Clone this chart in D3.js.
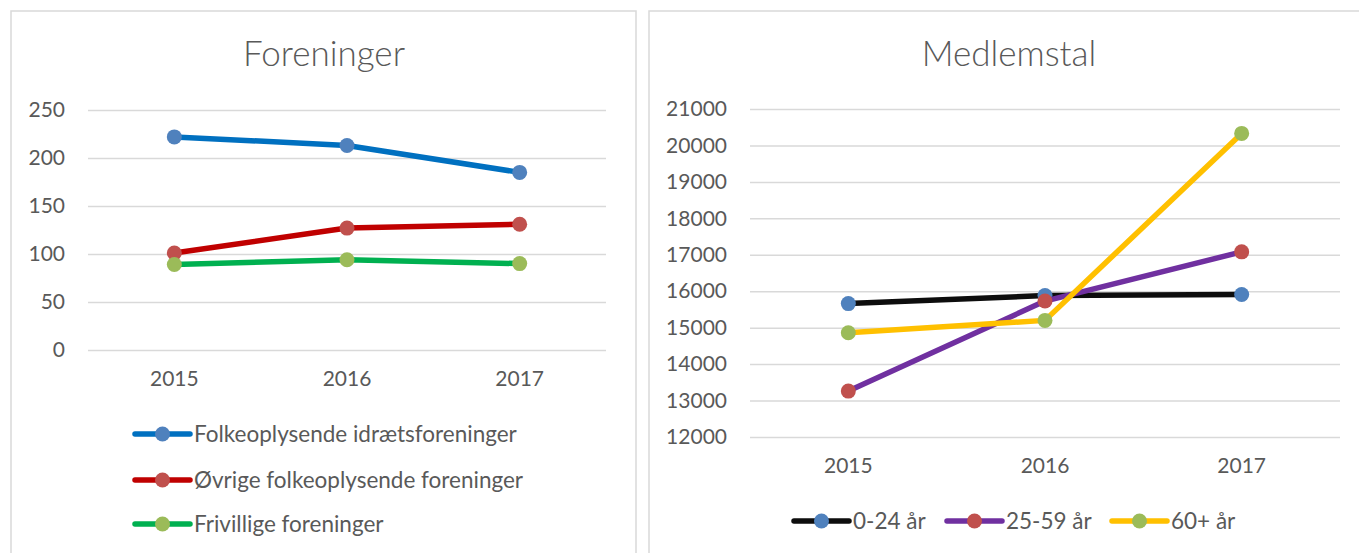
<!DOCTYPE html>
<html>
<head>
<meta charset="utf-8">
<script src="https://cdn.jsdelivr.net/npm/d3@7"></script>
<style>
  body { margin: 0; background: #fff; }
  svg text { font-family: Lato, "Open Sans", sans-serif; fill: #595959; }
</style>
</head>
<body>
<svg id="chart" width="1359" height="553"></svg>
<script>
// Data
var years = ['2015', '2016', '2017'];

// Foreninger
var foreningerNames = ['Folkeoplysende idrætsforeninger', 'Øvrige folkeoplysende foreninger', 'Frivillige foreninger'];
var idraet = [222, 213, 185];
var oevrige = [101, 127, 131];
var frivillige = [89, 94, 90];
var foreningerTicks = [0, 50, 100, 150, 200, 250];

// Medlemstal
var medlemNames = ['0-24 år', '25-59 år', '60+ år'];
var aar0_24 = [15660, 15880, 15910];
var aar25_59 = [13260, 15730, 17080];
var aar60 = [14860, 15200, 20330];
var medlemTicks = [12000, 13000, 14000, 15000, 16000, 17000, 18000, 19000, 20000, 21000];

var svg = d3.select('#chart');

// Panel borders
svg.append('rect')
    .attr('x', 11).attr('y', 11)
    .attr('width', 625).attr('height', 600)
    .attr('fill', 'none').attr('stroke', '#d9d9d9').attr('stroke-width', 1.5);
svg.append('rect')
    .attr('x', 649).attr('y', 11)
    .attr('width', 800).attr('height', 600)
    .attr('fill', 'none').attr('stroke', '#d9d9d9').attr('stroke-width', 1.5);

// Function to draw one line chart
function drawPanel(cfg) {

    var g = svg.append('g');

    var x = d3.scaleBand()
        .domain(years)
        .range([cfg.left, cfg.right]);

    var y = d3.scaleLinear()
        .domain(cfg.domain)
        .range([cfg.bottom, cfg.top]);

    // title
    g.append('text')
        .attr('x', cfg.titleX)
        .attr('y', 66)
        .attr('text-anchor', 'middle')
        .style('font-size', '35px')
        .style('font-weight', 300)
        .text(cfg.title);

    // gridlines + y labels
    var yAxis = d3.axisLeft(y)
        .tickValues(cfg.ticks)
        .tickFormat(d3.format('d'))
        .tickSize(-(cfg.right - cfg.left))
        .tickPadding(cfg.left - cfg.labelEnd);

    var ya = g.append('g')
        .attr('transform', 'translate(' + cfg.left + ',0)')
        .call(yAxis);
    ya.select('.domain').remove();
    ya.selectAll('.tick line').attr('stroke', '#d9d9d9').attr('stroke-width', 1.5);
    ya.selectAll('.tick text')
        .style('font-size', '21px')
        .style('font-family', 'Lato, sans-serif')
        .attr('fill', '#595959');

    // x labels
    var xAxis = d3.axisBottom(x).tickSize(0).tickPadding(cfg.xLabelPad);
    var xa = g.append('g')
        .attr('transform', 'translate(0,' + cfg.bottom + ')')
        .call(xAxis);
    xa.select('.domain').remove();
    xa.selectAll('.tick text')
        .style('font-size', '21px')
        .style('font-family', 'Lato, sans-serif')
        .attr('fill', '#595959');

    var line = d3.line()
        .x(function(d, i) { return x(years[i]) + x.bandwidth() / 2; })
        .y(function(d) { return y(d); });

    cfg.series.forEach(function(s) {
        g.append('path')
            .datum(s.values)
            .attr('d', line)
            .attr('fill', 'none')
            .attr('stroke', s.line)
            .attr('stroke-width', 5.5)
            .attr('stroke-linejoin', 'round')
            .attr('stroke-linecap', 'round');

        g.selectAll(null)
            .data(s.values)
            .enter().append('circle')
            .attr('cx', function(d, i) { return x(years[i]) + x.bandwidth() / 2; })
            .attr('cy', function(d) { return y(d); })
            .attr('r', 7.5)
            .attr('fill', s.marker);
    });

    // legend
    var legend = g.selectAll('.legend')
        .data(cfg.series)
        .enter().append('g')
        .attr('transform', function(d, i) { return 'translate(' + cfg.legendX[i] + ',' + cfg.legendY[i] + ')'; });

    legend.append('line')
        .attr('x1', 0).attr('x2', 55)
        .attr('stroke', function(d) { return d.line; })
        .attr('stroke-width', 5.5)
        .attr('stroke-linecap', 'round');

    legend.append('circle')
        .attr('cx', 27.5)
        .attr('r', 7.5)
        .attr('fill', function(d) { return d.marker; });

    legend.append('text')
        .attr('x', 59)
        .attr('dy', '0.35em')
        .style('font-size', '22.5px')
        .text(function(d) { return d.name; });
}

drawPanel({
    title: 'Foreninger',
    titleX: 324,
    left: 88, right: 606, top: 110, bottom: 350,
    labelEnd: 65,
    xLabelPad: 21,
    domain: [0, 250],
    ticks: foreningerTicks,
    series: [
        { name: foreningerNames[0], values: idraet, line: '#0070c0', marker: '#4f81bd' },
        { name: foreningerNames[1], values: oevrige, line: '#c00000', marker: '#c0504d' },
        { name: foreningerNames[2], values: frivillige, line: '#00b050', marker: '#9bbb59' }
    ],
    legendX: [135, 135, 135],
    legendY: [434, 480, 524]
});

drawPanel({
    title: 'Medlemstal',
    titleX: 1009,
    left: 750, right: 1340, top: 109, bottom: 437,
    labelEnd: 727,
    xLabelPad: 21,
    domain: [12000, 21000],
    ticks: medlemTicks,
    series: [
        { name: medlemNames[0], values: aar0_24, line: '#0d0d0d', marker: '#4f81bd' },
        { name: medlemNames[1], values: aar25_59, line: '#7030a0', marker: '#c0504d' },
        { name: medlemNames[2], values: aar60, line: '#ffc000', marker: '#9bbb59' }
    ],
    legendX: [794, 947, 1112],
    legendY: [521, 521, 521]
});
</script>
</body>
</html>
